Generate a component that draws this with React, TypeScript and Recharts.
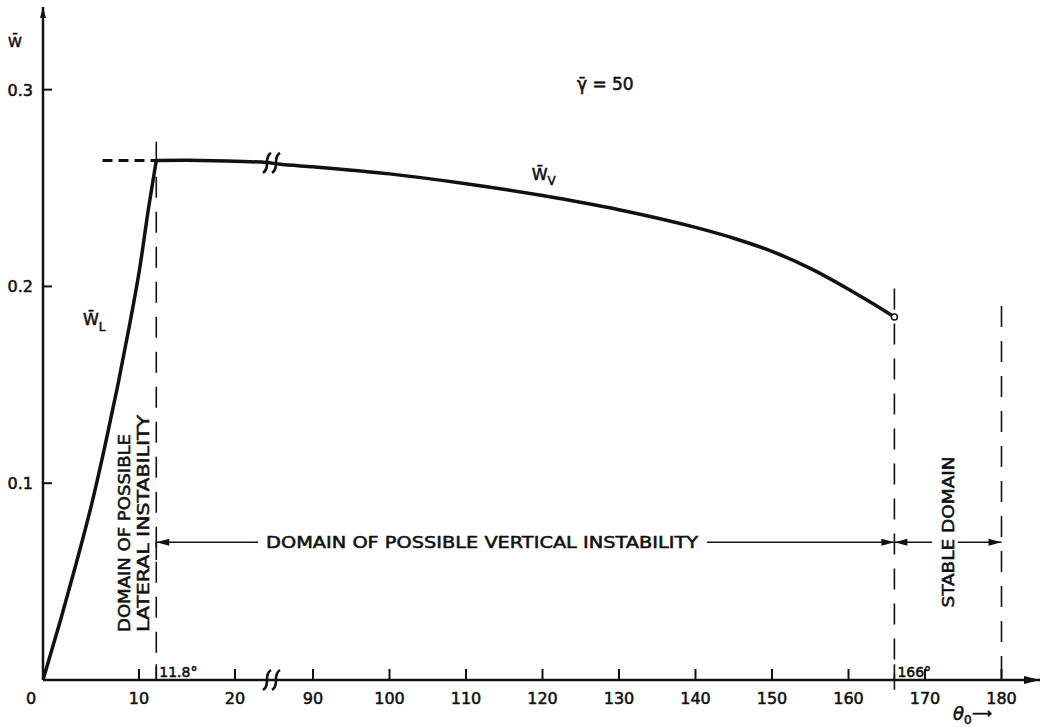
import React from "react";
import { LineChart, Line, XAxis, YAxis, ReferenceLine, ReferenceDot } from "recharts";

const INK = "#111";
const FONT = "'DejaVu Sans', sans-serif";
// lettering in the figure is heavier than the regular face
const HEAVY = { stroke: INK, strokeWidth: 0.55 };

// theta_0 (deg) and W-bar
const wlTheta = [0, 1.8, 3.5, 5.1, 6.5, 7.8, 9.0, 10.1, 11.0, 11.8];
const wlValue = [0, 0.03, 0.06, 0.09, 0.12, 0.15, 0.18, 0.21, 0.24, 0.264];

const wvTheta = [11.8, 15, 20, 23.3, 85.5, 90, 100, 110, 120, 130, 140, 145, 150, 155, 160, 163, 166];
const wvValue = [
  0.264, 0.2641, 0.2636, 0.263, 0.2622, 0.2608, 0.2572, 0.2522, 0.2462, 0.239, 0.23, 0.2245, 0.2178,
  0.2092, 0.1986, 0.1917, 0.1845,
];

// dashed continuation of W_V to the left of 11.8
const wvDashTheta = [6.2, 11.8];
const wvDashValue = [0.264, 0.264];

const xTickLabels = [0, 10, 20, 90, 100, 110, 120, 130, 140, 150, 160, 170, 180];
const yTickValues = [0.1, 0.2, 0.3];

const lateralLimit = 11.8;
const verticalLimit = 166;
const stableLimit = 180;
const domainLevel = 0.07;

// broken axis: 0..20 on one scale, 90..180 on a tighter one
const toU = (t: number) => (t < 50 ? t * 9.6 : 270 + (t - 90) * 7.65);
const U_MAX = 997;
const BREAK_U = 229;
const W_MAX = 0.342;

const wlData = wlTheta.map((t, i) => ({ u: toU(t), w: wlValue[i] }));
const wvData = wvTheta.map((t, i) => ({ u: toU(t), w: wvValue[i] }));
const wvDashData = wvDashTheta.map((t, i) => ({ u: toU(t), w: wvDashValue[i] }));
const xTicks = xTickLabels.map(toU);

const XTick = (props: any) => {
  const { x, y, index } = props;
  const label = xTickLabels[index];
  return (
    <g>
      {label !== 0 && <line x1={x} x2={x} y1={y} y2={y - 11} stroke={INK} strokeWidth={2} />}
      <text x={x + (label === 0 ? -12 : 0)} y={y + 24} textAnchor="middle" fontSize={16} fontFamily={FONT} fill={INK} {...HEAVY}>
        {label}
      </text>
    </g>
  );
};

const YTick = (props: any) => {
  const { x, y, payload } = props;
  return (
    <g>
      <line x1={x + 10} x2={x + 19} y1={y} y2={y} stroke={INK} strokeWidth={2} />
      <text x={x} y={y + 6} textAnchor="end" fontSize={16} fontFamily={FONT} fill={INK} {...HEAVY}>
        {payload.value}
      </text>
    </g>
  );
};

const arrowHead = (dir: "left" | "right" | "up", len = 13, half = 3.5) => (p: any) => {
  const { cx, cy } = p;
  let pts = "";
  if (dir === "left") pts = `${cx},${cy} ${cx + len},${cy - half} ${cx + len},${cy + half}`;
  if (dir === "right") pts = `${cx},${cy} ${cx - len},${cy - half} ${cx - len},${cy + half}`;
  if (dir === "up") pts = `${cx},${cy} ${cx - half},${cy + len} ${cx + half},${cy + len}`;
  return <polygon points={pts} fill={INK} />;
};

const breakMark = (p: any) => {
  const { cx, cy } = p;
  const s = (x: number) => `M${x - 4},${cy + 10} C${x + 4},${cy + 5} ${x - 4},${cy - 5} ${x + 4},${cy - 10}`;
  return (
    <g fill="none" stroke={INK} strokeWidth={2.5}>
      <path d={s(cx - 5)} />
      <path d={s(cx + 4)} />
    </g>
  );
};

const textAt =
  (content: React.ReactNode, o: { dx?: number; dy?: number; size?: number; anchor?: string; rotate?: boolean; length?: number }) =>
  (p: any) => {
    const x = p.cx + (o.dx ?? 0);
    const y = p.cy + (o.dy ?? 0);
    return (
      <text
        x={x}
        y={y}
        fontSize={o.size ?? 16}
        fontFamily={FONT}
        fill={INK}
        {...HEAVY}
        textAnchor={o.anchor ?? "start"}
        transform={o.rotate ? `rotate(-90 ${x} ${y})` : undefined}
        textLength={o.length}
        lengthAdjust={o.length ? "spacingAndGlyphs" : undefined}
      >
        {content}
      </text>
    );
  };

const dashed = { stroke: INK, strokeWidth: 1.6, strokeDasharray: "21 14" };
const solid = { stroke: INK, strokeWidth: 1.6 };

export default function App() {
  const last = wvData.length - 1;
  return (
    <div style={{ position: "fixed", left: 0, top: 0, background: "#fff" }}>
      <LineChart width={1043} height={727} margin={{ top: 7, right: 3, left: 0, bottom: 0 }}>
        <XAxis
          type="number"
          dataKey="u"
          domain={[0, U_MAX]}
          allowDataOverflow
          ticks={xTicks}
          interval={0}
          height={47}
          tickSize={0}
          tickMargin={0}
          tick={<XTick />}
          axisLine={{ stroke: INK, strokeWidth: 2.5 }}
          label={{
            content: ({ viewBox }: any) => (
              <text x={viewBox.x + 910} y={viewBox.y + 40} fontSize={18} fontFamily={FONT} fill={INK} {...HEAVY}>
                <tspan fontStyle="italic">θ</tspan>
                <tspan fontSize={12} dy={4}>0</tspan>
                <tspan dy={-6} fontSize={14}>⟶</tspan>
              </text>
            ),
          }}
        />
        <YAxis
          type="number"
          domain={[0, W_MAX]}
          allowDataOverflow
          ticks={yTickValues}
          interval={0}
          width={43}
          tickSize={0}
          tickMargin={10}
          tick={<YTick />}
          axisLine={{ stroke: INK, strokeWidth: 2.5 }}
          label={{
            content: ({ viewBox }: any) => (
              <text x={viewBox.x + 8} y={viewBox.y + 40} fontSize={14} fontFamily={FONT} fill={INK} {...HEAVY}>
                W̄
              </text>
            ),
          }}
        />

        {/* domain boundaries */}
        <ReferenceLine segment={[{ x: toU(lateralLimit), y: 0.2735 }, { x: toU(lateralLimit), y: 0 }]} {...dashed} ifOverflow="visible" />
        <ReferenceLine segment={[{ x: toU(lateralLimit), y: 0 }, { x: toU(lateralLimit), y: 0.008 }]} {...solid} ifOverflow="visible" />
        <ReferenceLine segment={[{ x: toU(lateralLimit), y: domainLevel }, { x: toU(lateralLimit), y: 0.061 }]} {...solid} ifOverflow="visible" />
        <ReferenceLine segment={[{ x: toU(verticalLimit), y: 0.199 }, { x: toU(verticalLimit), y: 0 }]} {...dashed} ifOverflow="visible" />
        <ReferenceLine segment={[{ x: toU(verticalLimit), y: -0.005 }, { x: toU(verticalLimit), y: 0.008 }]} {...solid} ifOverflow="visible" />
        <ReferenceLine segment={[{ x: toU(stableLimit), y: 0.19 }, { x: toU(stableLimit), y: 0 }]} {...dashed} ifOverflow="visible" />

        {/* dimension lines */}
        <ReferenceLine segment={[{ x: toU(lateralLimit), y: domainLevel }, { x: toU(22.4), y: domainLevel }]} {...solid} />
        <ReferenceLine segment={[{ x: toU(141.5), y: domainLevel }, { x: toU(verticalLimit), y: domainLevel }]} {...solid} />
        <ReferenceLine segment={[{ x: toU(verticalLimit), y: domainLevel }, { x: toU(170.9), y: domainLevel }]} {...solid} />
        <ReferenceLine segment={[{ x: toU(174.3), y: domainLevel }, { x: toU(stableLimit), y: domainLevel }]} {...solid} />
        <ReferenceDot x={toU(lateralLimit)} y={domainLevel} r={0} shape={arrowHead("left")} />
        <ReferenceDot x={toU(verticalLimit)} y={domainLevel} r={0} shape={arrowHead("right")} />
        <ReferenceDot x={toU(verticalLimit)} y={domainLevel} r={0} shape={arrowHead("left")} />
        <ReferenceDot x={toU(stableLimit)} y={domainLevel} r={0} shape={arrowHead("right")} />

        <Line data={wvDashData} dataKey="w" stroke={INK} strokeWidth={3} strokeDasharray="10 6" dot={false} isAnimationActive={false} />
        <Line data={wlData} dataKey="w" type="monotone" stroke={INK} strokeWidth={3.5} dot={false} isAnimationActive={false} />
        <Line data={wvData} dataKey="w" type="monotone" stroke={INK} strokeWidth={3.5} dot={false} isAnimationActive={false} />
        <ReferenceDot x={wvData[last].u} y={wvData[last].w} r={3} fill="#fff" stroke={INK} strokeWidth={1.5} />

        {/* axis arrows and breaks */}
        <ReferenceDot x={U_MAX} y={0} r={0} shape={arrowHead("right", 16, 4)} ifOverflow="visible" />
        <ReferenceDot x={0} y={W_MAX} r={0} shape={arrowHead("up", 11, 3)} ifOverflow="visible" />
        <ReferenceDot x={BREAK_U} y={0.2628} r={0} shape={breakMark} />
        <ReferenceDot x={BREAK_U} y={0} r={0} shape={breakMark} ifOverflow="visible" />

        {/* annotations */}
        <ReferenceDot x={toU(lateralLimit)} y={0} r={0} shape={textAt("11.8°", { dx: 3, dy: -3, size: 14 })} />
        <ReferenceDot x={toU(verticalLimit)} y={0} r={0} shape={textAt("166°", { dx: 3, dy: -3, size: 14 })} />
        <ReferenceDot x={toU(112.1)} y={domainLevel} r={0} shape={textAt("DOMAIN OF POSSIBLE VERTICAL INSTABILITY", { dy: 6, size: 16, anchor: "middle", length: 432 })} />
        <ReferenceDot x={toU(173)} y={0.0752} r={0} shape={textAt("STABLE DOMAIN", { dx: 6, size: 16, anchor: "middle", rotate: true, length: 151 })} />
        <ReferenceDot x={toU(8.44)} y={0.0244} r={0} shape={textAt("DOMAIN OF POSSIBLE", { dx: 6, size: 16, rotate: true, length: 198 })} />
        <ReferenceDot x={toU(10.4)} y={0.0244} r={0} shape={textAt("LATERAL INSTABILITY", { dx: 6, size: 16, rotate: true, length: 217 })} />
        <ReferenceDot
          x={toU(4.17)}
          y={0.1805}
          r={0}
          shape={textAt(<>W̄<tspan fontSize={12} dy={6}>L</tspan></>, { size: 16 })}
        />
        <ReferenceDot
          x={toU(118.6)}
          y={0.2542}
          r={0}
          shape={textAt(<>W̄<tspan fontSize={12} dy={5}>V</tspan></>, { size: 16 })}
        />
        <ReferenceDot x={toU(124.5)} y={0.2999} r={0} shape={textAt("γ̄ = 50", { size: 17 })} />
      </LineChart>
    </div>
  );
}
